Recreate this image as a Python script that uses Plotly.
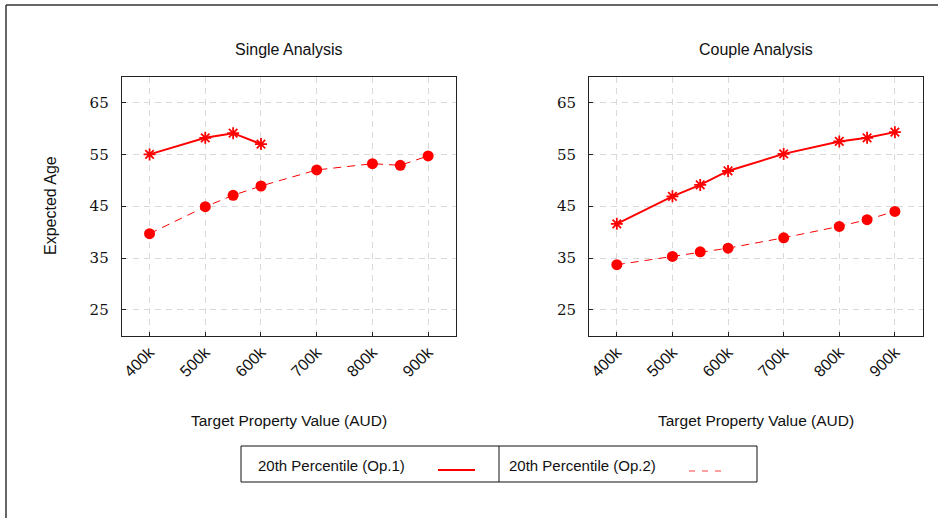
import plotly.graph_objects as go

# ---- data ----
x_single_op1 = [400, 500, 550, 600]
y_single_op1 = [55.0, 58.2, 59.1, 57.0]
x_single_op2 = [400, 500, 550, 600, 700, 800, 850, 900]
y_single_op2 = [39.7, 44.9, 47.1, 48.9, 52.0, 53.2, 52.9, 54.7]

x_couple = [400, 500, 550, 600, 700, 800, 850, 900]
y_couple_op1 = [41.6, 46.9, 49.1, 51.8, 55.1, 57.5, 58.2, 59.3]
y_couple_op2 = [33.7, 35.3, 36.2, 36.9, 38.9, 41.1, 42.4, 44.0]

x_ticks = [400, 500, 600, 700, 800, 900]
x_tick_labels = ["400k", "500k", "600k", "700k", "800k", "900k"]
y_ticks = [25, 35, 45, 55, 65]
titles = ["Single Analysis", "Couple Analysis"]
series_names = ["20th Percentile (Op.1)", "20th Percentile (Op.2)"]

W, H = 938, 518
RED = "#ff0000"
SANS = "Liberation Sans, Arial, sans-serif"
SERIF = "DejaVu Serif, Liberation Serif, serif"

def px(x):
    return x / W

def py(y):
    return 1 - y / H

fig = go.Figure()

op1_style = dict(mode="lines+markers", line=dict(color=RED, width=2),
                 marker=dict(symbol="asterisk-open", size=10, color=RED, line=dict(color=RED, width=1.8)),
                 showlegend=False)
op2_style = dict(mode="lines+markers", line=dict(color=RED, width=1, dash="8px,6px"),
                 marker=dict(symbol="circle", size=11, color=RED),
                 showlegend=False)

fig.add_trace(go.Scatter(x=x_single_op1, y=y_single_op1, name=series_names[0], xaxis="x", yaxis="y", **op1_style))
fig.add_trace(go.Scatter(x=x_single_op2, y=y_single_op2, name=series_names[1], xaxis="x", yaxis="y", **op2_style))
fig.add_trace(go.Scatter(x=x_couple, y=y_couple_op1, name=series_names[0], xaxis="x2", yaxis="y2", **op1_style))
fig.add_trace(go.Scatter(x=x_couple, y=y_couple_op2, name=series_names[1], xaxis="x2", yaxis="y2", **op2_style))

dom1 = [px(121.7), px(456)]
dom2 = [px(589), px(922.7)]
ydom = [py(335.7), py(76.7)]

xcommon = dict(range=[350, 950], tickvals=x_ticks, ticktext=x_tick_labels, tickangle=-45,
               showline=True, linecolor="#222", linewidth=1, mirror=True,
               ticks="inside", ticklen=4, tickcolor="#222",
               showgrid=True, gridcolor="#d9d9d9", griddash="6px,5px", gridwidth=1,
               zeroline=False, tickfont=dict(family=SANS, size=16, color="#111"))
ycommon = dict(range=[20, 70], tickvals=y_ticks,
               showline=True, linecolor="#222", linewidth=1, mirror=True,
               ticks="inside", ticklen=4, tickcolor="#222",
               showgrid=True, gridcolor="#d9d9d9", griddash="6px,5px", gridwidth=1,
               zeroline=False, tickfont=dict(family=SERIF, size=15, color="#111"),
               ticklabelstandoff=9)

fig.update_layout(
    width=W, height=H,
    margin=dict(l=0, r=0, t=0, b=0),
    plot_bgcolor="white", paper_bgcolor="white",
    xaxis=dict(domain=dom1, anchor="y", **xcommon),
    yaxis=dict(domain=ydom, anchor="x", **ycommon),
    xaxis2=dict(domain=dom2, anchor="y2", **xcommon),
    yaxis2=dict(domain=ydom, anchor="x2", **ycommon),
    showlegend=False,
)

ann = []
for title, dom in zip(titles, [dom1, dom2]):
    ann.append(dict(text=title, x=(dom[0] + dom[1]) / 2, y=py(49), xref="paper", yref="paper",
                    showarrow=False, xanchor="center", yanchor="middle",
                    font=dict(family=SANS, size=16, color="#111")))
    ann.append(dict(text="Target Property Value (AUD)", x=(dom[0] + dom[1]) / 2, y=py(420),
                    xref="paper", yref="paper", showarrow=False, xanchor="center", yanchor="middle",
                    font=dict(family=SANS, size=15.5, color="#111")))
ann.append(dict(text="Expected Age", x=px(50), y=py(206), xref="paper", yref="paper",
                showarrow=False, textangle=-90, xanchor="center", yanchor="middle",
                font=dict(family=SANS, size=16, color="#111")))
ann.append(dict(text=series_names[0], x=px(256), y=py(465), xref="paper", yref="paper",
                showarrow=False, xanchor="left", yanchor="middle",
                font=dict(family=SANS, size=15, color="#111")))
ann.append(dict(text=series_names[1], x=px(507), y=py(465), xref="paper", yref="paper",
                showarrow=False, xanchor="left", yanchor="middle",
                font=dict(family=SANS, size=15, color="#111")))

shapes = [
    dict(type="line", xref="paper", yref="paper", x0=px(6), x1=px(6), y0=0, y1=py(5),
         line=dict(color="#333", width=1.5)),
    dict(type="line", xref="paper", yref="paper", x0=px(6), x1=1, y0=py(5), y1=py(5),
         line=dict(color="#333", width=1.5)),
    dict(type="rect", xref="paper", yref="paper", x0=px(241), x1=px(757), y0=py(482), y1=py(446),
         line=dict(color="#111", width=1)),
    dict(type="line", xref="paper", yref="paper", x0=px(499), x1=px(499), y0=py(482), y1=py(446),
         line=dict(color="#111", width=1)),
    dict(type="line", xref="paper", yref="paper", x0=px(438), x1=px(475), y0=py(470), y1=py(470),
         line=dict(color=RED, width=2)),
    dict(type="line", xref="paper", yref="paper", x0=px(689), x1=px(726), y0=py(471), y1=py(471),
         line=dict(color=RED, width=1, dash="6px,7px"), opacity=0.75),
]

fig.update_layout(annotations=ann, shapes=shapes)
fig.write_html("out.html", config={"displayModeBar": False},
               post_script="document.body.style.margin='0';document.body.style.overflow='hidden';")
